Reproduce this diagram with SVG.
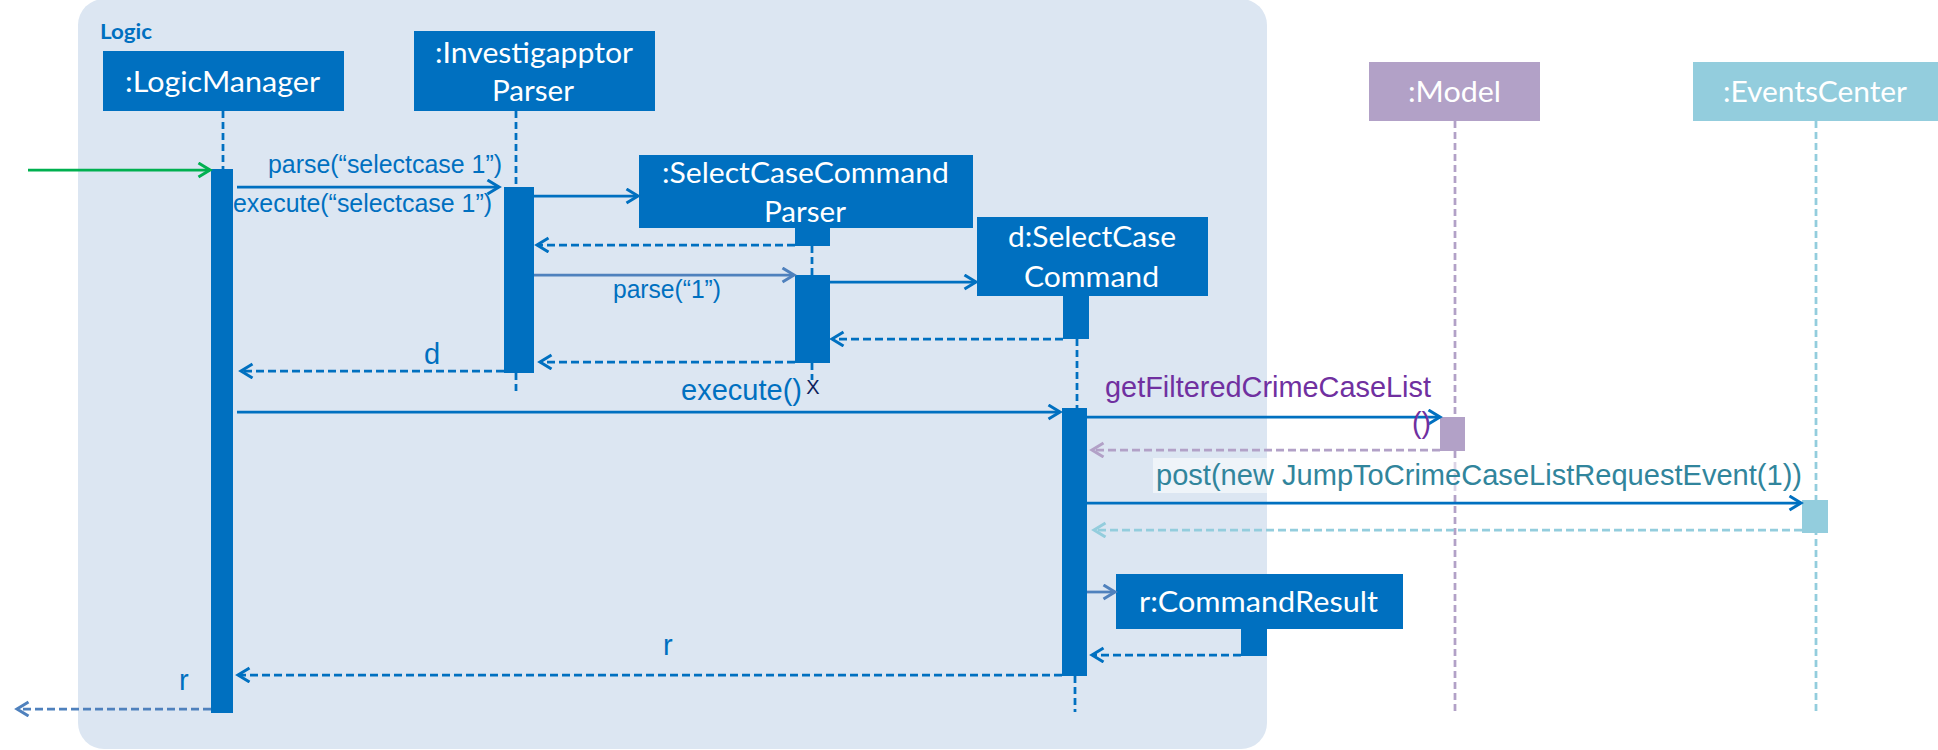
<svg xmlns="http://www.w3.org/2000/svg" width="1938" height="750" viewBox="0 0 1938 750">
  <style>
    .box { fill: #0070c0; }
    .bar { fill: #0070c0; }
    .boxtext { font-family: Lato, "Liberation Sans", sans-serif; font-size: 28px; fill: #ffffff; }
    .lbl { font-family: "Liberation Sans", Arial, sans-serif; fill: #0070c0; }
    .life { stroke: #0070c0; stroke-width: 2.75; stroke-dasharray: 7 4; fill: none; }
    .call { stroke: #0070c0; stroke-width: 2.75; fill: none; marker-end: url(#ah-blue); }
    .call-light { stroke: #4f81bd; stroke-width: 2.75; fill: none; marker-end: url(#ah-light); }
    .ret { stroke: #0070c0; stroke-width: 2.75; stroke-dasharray: 8 4; fill: none; marker-end: url(#ah-blue); }
    .ret-light { stroke: #4f81bd; stroke-width: 2.75; stroke-dasharray: 8 4; fill: none; marker-end: url(#ah-light); }
  </style>
  <defs>
    <marker id="ah-blue" markerUnits="userSpaceOnUse" markerWidth="16" markerHeight="18" refX="13" refY="8" orient="auto">
      <path d="M1.5,1 L13,8 L1.5,15" fill="none" stroke="#0070c0" stroke-width="3"/>
    </marker>
    <marker id="ah-light" markerUnits="userSpaceOnUse" markerWidth="16" markerHeight="18" refX="13" refY="8" orient="auto">
      <path d="M1.5,1 L13,8 L1.5,15" fill="none" stroke="#4f81bd" stroke-width="3"/>
    </marker>
    <marker id="ah-green" markerUnits="userSpaceOnUse" markerWidth="16" markerHeight="18" refX="13" refY="8" orient="auto">
      <path d="M1.5,1 L13,8 L1.5,15" fill="none" stroke="#00b050" stroke-width="3"/>
    </marker>
    <marker id="ah-purple" markerUnits="userSpaceOnUse" markerWidth="16" markerHeight="18" refX="13" refY="8" orient="auto">
      <path d="M1.5,1 L13,8 L1.5,15" fill="none" stroke="#b2a1c7" stroke-width="3"/>
    </marker>
    <marker id="ah-teal" markerUnits="userSpaceOnUse" markerWidth="16" markerHeight="18" refX="13" refY="8" orient="auto">
      <path d="M1.5,1 L13,8 L1.5,15" fill="none" stroke="#93cddd" stroke-width="3"/>
    </marker>
  </defs>

  <!-- Logic component frame -->
  <g id="frame-logic">
    <rect x="78" y="-1" width="1189" height="750" rx="26" ry="26" fill="#dce6f2"/>
    <text x="100" y="39" font-family="Lato, 'Liberation Sans', sans-serif" font-weight="bold" font-size="21" fill="#0070c0" textLength="52" lengthAdjust="spacingAndGlyphs">Logic</text>
  </g>

  <!-- :LogicManager -->
  <g id="node-logicmanager">
    <rect class="box" x="103" y="51" width="241" height="60"/>
    <text class="boxtext" x="125" y="92" textLength="195" lengthAdjust="spacingAndGlyphs">:LogicManager</text>
    <line class="life" x1="223" y1="111" x2="223" y2="169"/>
    <rect class="bar" x="211" y="169" width="22" height="544"/>
  </g>

  <!-- :InvestigapptorParser -->
  <g id="node-investigapptorparser">
    <rect class="box" x="414" y="31" width="241" height="80"/>
    <text class="boxtext" x="435" y="63" textLength="198" lengthAdjust="spacingAndGlyphs">:Investigapptor</text>
    <text class="boxtext" x="492" y="101" textLength="82" lengthAdjust="spacingAndGlyphs">Parser</text>
    <line class="life" x1="516" y1="111" x2="516" y2="187"/>
    <rect class="bar" x="504" y="187" width="30" height="186"/>
    <line class="life" x1="516" y1="373" x2="516" y2="391"/>
  </g>

  <!-- :SelectCaseCommandParser -->
  <g id="node-selectcasecommandparser">
    <rect class="box" x="639" y="155" width="334" height="73"/>
    <text class="boxtext" x="662" y="183" textLength="287" lengthAdjust="spacingAndGlyphs">:SelectCaseCommand</text>
    <text class="boxtext" x="764" y="222" textLength="82" lengthAdjust="spacingAndGlyphs">Parser</text>
    <rect class="bar" x="795" y="227" width="35" height="19"/>
    <line class="life" x1="812" y1="246" x2="812" y2="275"/>
    <rect class="bar" x="795" y="275" width="35" height="88"/>
    <line class="life" x1="812" y1="363" x2="812" y2="380"/>
    <text x="813" y="394" text-anchor="middle" font-family="'Liberation Sans', Arial, sans-serif" font-size="20" fill="#0f1f5c">X</text>
  </g>

  <!-- d:SelectCaseCommand -->
  <g id="node-selectcasecommand">
    <rect class="box" x="977" y="217" width="231" height="79"/>
    <text class="boxtext" x="1008" y="247" textLength="168" lengthAdjust="spacingAndGlyphs">d:SelectCase</text>
    <text class="boxtext" x="1024" y="287" textLength="135" lengthAdjust="spacingAndGlyphs">Command</text>
    <rect class="bar" x="1063" y="295" width="26" height="44"/>
    <line class="life" x1="1077" y1="339" x2="1077" y2="408"/>
    <rect class="bar" x="1062" y="408" width="25" height="268"/>
    <line class="life" x1="1075" y1="676" x2="1075" y2="712"/>
  </g>

  <!-- :Model -->
  <g id="node-model">
    <rect x="1369" y="62" width="171" height="59" fill="#b2a1c7"/>
    <text class="boxtext" x="1408" y="102" textLength="93" lengthAdjust="spacingAndGlyphs">:Model</text>
    <line x1="1455" y1="121" x2="1455" y2="713" stroke="#b2a1c7" stroke-width="2.75" stroke-dasharray="7 4"/>
    <rect x="1440" y="417" width="25" height="34" fill="#b2a1c7"/>
  </g>

  <!-- :EventsCenter -->
  <g id="node-eventscenter">
    <rect x="1693" y="62" width="245" height="59" fill="#93cddd"/>
    <text class="boxtext" x="1723" y="102" textLength="184" lengthAdjust="spacingAndGlyphs">:EventsCenter</text>
    <line x1="1816" y1="121" x2="1816" y2="713" stroke="#93cddd" stroke-width="2.75" stroke-dasharray="7 4"/>
    <rect x="1802" y="500" width="26" height="33" fill="#93cddd"/>
  </g>

  <!-- r:CommandResult -->
  <g id="node-commandresult">
    <rect class="box" x="1116" y="574" width="287" height="55"/>
    <text class="boxtext" x="1139" y="612" textLength="239" lengthAdjust="spacingAndGlyphs">r:CommandResult</text>
    <rect class="bar" x="1241" y="628" width="26" height="28"/>
  </g>

  <!-- messages -->
  <g id="connectors">
    <line x1="28" y1="170" x2="210" y2="170" stroke="#00b050" stroke-width="2.75" marker-end="url(#ah-green)"/>

    <line class="call" x1="237" y1="187" x2="499" y2="187"/>
    <text class="lbl" x="268" y="173" font-size="25" textLength="234" lengthAdjust="spacingAndGlyphs">parse(“selectcase 1”)</text>
    <text class="lbl" x="233" y="212" font-size="25" textLength="259" lengthAdjust="spacingAndGlyphs">execute(“selectcase 1”)</text>

    <line class="call" x1="534" y1="196" x2="638" y2="196"/>
    <line class="ret" x1="795" y1="245" x2="537" y2="245"/>

    <line class="call-light" x1="534" y1="275" x2="794" y2="275"/>
    <text class="lbl" x="613" y="298" font-size="25" textLength="108" lengthAdjust="spacingAndGlyphs">parse(“1”)</text>

    <line class="call" x1="830" y1="282" x2="976" y2="282"/>
    <line class="ret" x1="1063" y1="339" x2="832" y2="339"/>
    <line class="ret" x1="795" y1="362" x2="540" y2="362"/>

    <line class="ret" x1="504" y1="371" x2="241" y2="371"/>
    <text class="lbl" x="424" y="364" font-size="29">d</text>

    <line class="call" x1="237" y1="412" x2="1060" y2="412"/>
    <text class="lbl" x="681" y="400" font-size="29" textLength="121" lengthAdjust="spacingAndGlyphs">execute()</text>

    <line class="call" x1="1087" y1="417" x2="1440" y2="417"/>
    <text x="1105" y="397" font-family="'Liberation Sans', Arial, sans-serif" font-size="29" fill="#7030a0" textLength="326" lengthAdjust="spacingAndGlyphs">getFilteredCrimeCaseList</text>
    <text x="1412" y="433" font-family="'Liberation Sans', Arial, sans-serif" font-size="29" fill="#7030a0" textLength="19" lengthAdjust="spacingAndGlyphs">()</text>
    <line x1="1440" y1="450" x2="1092" y2="450" stroke="#b2a1c7" stroke-width="2.75" stroke-dasharray="8 4" marker-end="url(#ah-purple)"/>

    <rect x="1153" y="458" width="655" height="35" fill="#ffffff" fill-opacity="0.55"/>
    <text x="1156" y="485" font-family="'Liberation Sans', Arial, sans-serif" font-size="29" fill="#31859c" textLength="646" lengthAdjust="spacingAndGlyphs">post(new JumpToCrimeCaseListRequestEvent(1))</text>
    <line class="call" x1="1087" y1="503" x2="1801" y2="503"/>
    <line x1="1802" y1="530" x2="1094" y2="530" stroke="#93cddd" stroke-width="2.75" stroke-dasharray="8 4" marker-end="url(#ah-teal)"/>

    <line class="call-light" x1="1087" y1="592" x2="1115" y2="592"/>
    <line class="ret" x1="1241" y1="655" x2="1092" y2="655"/>

    <line class="ret" x1="1062" y1="675" x2="238" y2="675"/>
    <text class="lbl" x="663" y="655" font-size="29">r</text>

    <line class="ret-light" x1="211" y1="709" x2="17" y2="709"/>
    <text class="lbl" x="179" y="690" font-size="29">r</text>
  </g>
</svg>
